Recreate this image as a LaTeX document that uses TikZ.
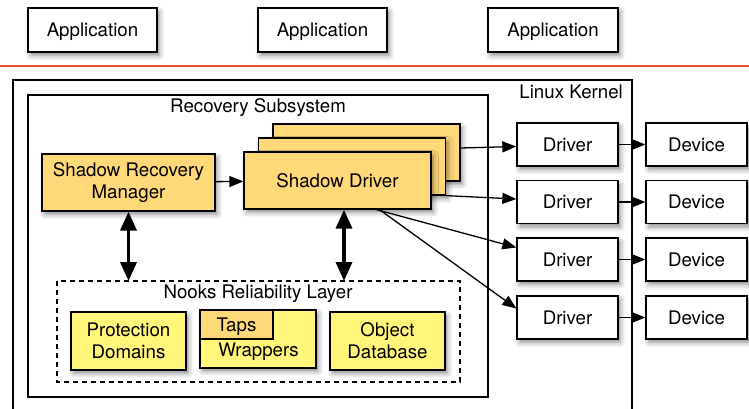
\documentclass[tikz,border=0pt]{standalone}
\usepackage{fontspec}
\setmainfont{TeX Gyre Heros}
\usetikzlibrary{arrows.meta,shadows.blur,calc}
\definecolor{shadoworange}{HTML}{FFD87A}
\definecolor{nooksyellow}{HTML}{FFF67A}
\definecolor{userline}{HTML}{F04E2C}
\tikzset{
  every node/.style={font=\fontsize{18.7}{22}\selectfont, inner sep=0pt, align=center},
  oneline/.style={text height=13.4pt, text depth=0pt},
  twolines/.style={yshift=-2pt},
  shade/.style={blur shadow={shadow xshift=2.5pt, shadow yshift=-3.5pt, shadow blur radius=5pt, shadow opacity=45}},
  plainbox/.style={draw=black, line width=1.3pt, fill=white, shade},
  orangebox/.style={draw=black, line width=1.3pt, fill=shadoworange, shade},
  yellowbox/.style={draw=black, line width=1.3pt, fill=nooksyellow, shade},
  frame/.style={draw=black, line width=1.1pt},
  arr/.style={line width=1.3pt, -{Triangle[length=14pt,width=11pt]}},
  dbl/.style={line width=3.6pt, {Triangle[length=19pt,width=16pt]}-{Triangle[length=19pt,width=16pt]}},
}
\begin{document}
\begin{tikzpicture}[x=1pt, y=-1pt]
\useasboundingbox (0,0) rectangle (749,409);

% user space
\node[plainbox, oneline, minimum width=129pt, minimum height=44pt] (app1) at (92.5,30) {Application};
\node[plainbox, oneline, minimum width=129pt, minimum height=44pt] (app2) at (322.5,30) {Application};
\node[plainbox, oneline, minimum width=130pt, minimum height=44pt] (app3) at (553,30) {Application};
\coordinate (ul) at (0,66);
\coordinate (ur) at (749,66);
\draw[userline, line width=2pt] (ul) -- (ur);

% kernel and recovery subsystem frames
\draw[frame] (13,409) -- (13,80) -- (632,80) -- (632,409);
\node[oneline, anchor=east] (kernel) at (623,92.3) {Linux Kernel};
\draw[frame] (28,95) rectangle (488,397);
\node[oneline] (recovery) at (258,106) {Recovery Subsystem};

% recovery components
\node[orangebox, twolines, minimum width=173pt, minimum height=57pt] (srm) at (128.5,180.5) {Shadow Recovery\\Manager};
\node[orangebox, minimum width=187pt, minimum height=57pt] (sdback) at (366.5,152.5) {};
\node[orangebox, minimum width=187pt, minimum height=57pt] (sdmid) at (352,166.5) {};
\node[orangebox, oneline, minimum width=187pt, minimum height=57pt] (sd) at (337.5,180.5) {Shadow Driver};
\draw[arr] (srm) -- (sd);

% nooks layer
\draw[line width=1.1pt, dash pattern=on 5pt off 4pt] (57,281) rectangle (460,382);
\coordinate (nookstop) at (258,281);
\node[oneline] (nooks) at (258,292) {Nooks Reliability Layer};
\node[yellowbox, twolines, minimum width=115pt, minimum height=58pt] (pd) at (128.5,339) {Protection\\Domains};
\node[yellowbox, minimum width=116pt, minimum height=58pt] (wrap) at (258,339) {};
\node[draw=black, line width=1.3pt, fill=shadoworange, oneline, minimum width=73pt, minimum height=29pt, anchor=north west] (taps) at (wrap.north west) {Taps};
\node[oneline] (wraptext) at (258.5,349.5) {Wrappers};
\node[yellowbox, twolines, minimum width=115pt, minimum height=58pt] (odb) at (387.5,339) {Object\\Database};

\draw[dbl] (srm.south) -- (srm.south |- nookstop);
\draw[dbl] ([xshift=6.5pt]sd.south) -- ([xshift=6.5pt]sd.south |- nookstop);

% drivers and devices
\foreach \i/\y in {1/144.5, 2/202, 3/259.5, 4/317.5} {
  \node[plainbox, oneline, minimum width=101pt, minimum height=43pt] (drv\i) at (567.5,\y) {Driver};
  \node[plainbox, oneline, minimum width=101pt, minimum height=43pt] (dev\i) at (696.5,\y) {Device};
  \draw[arr] (drv\i) -- (dev\i);
}
\draw[arr] ($(sdback.east)+(0,-4.5)$) -- ($(drv1.west)+(0,2)$);
\draw[arr] (sdmid.south east) -- ($(drv2.west)+(0,-3)$);
\draw[arr] ($(sd.south)+(39,0)$) -- ($(drv3.west)+(0,-12)$);
\draw[arr] ($(sd.south)+(42,0)$) -- ($(drv4.west)+(0,-9)$);
\end{tikzpicture}
\end{document}
